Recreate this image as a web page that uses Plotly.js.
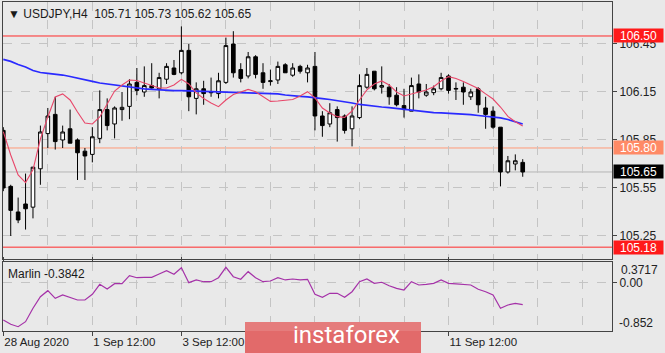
<!DOCTYPE html>
<html><head><meta charset="utf-8">
<script src="https://cdn.plot.ly/plotly-3.0.1.min.js"></script>
<style>html,body{margin:0;padding:0;background:#e9e9e9;}#chart{width:665px;height:353px;}</style>
</head><body><div id="chart"></div>
<script>
// ---- data (H4 bars, index 0..70) ----
const symbol = 'USDJPY,H4';
const openP  = [105.91,105.56,105.40,105.45,105.43,105.67,105.89,106.01,105.85,105.92,105.85,105.78,105.76,105.86,106.04,105.95,106.04,106.06,106.21,106.15,106.19,106.17,106.23,106.30,106.27,106.41,106.11,106.17,106.152,106.14,106.21,106.45,106.29,106.25,106.37,106.27,106.215,106.225,106.32,106.255,106.31,106.27,106.31,106.00,105.95,106.04,106.00,105.92,105.99,106.18,106.28,106.18,106.18,106.13,106.065,106.03,106.20,106.13,106.146,106.17,106.25,106.168,106.18,106.12,106.17,106.05,106.03,105.93,105.65,105.70,105.71];
const highP  = [105.93,105.57,105.49,105.64,105.68,105.94,106.05,106.12,105.94,106.04,105.86,105.80,105.93,106.16,106.11,106.06,106.15,106.23,106.30,106.31,106.33,106.27,106.33,106.35,106.56,106.45,106.21,106.22,106.24,106.27,106.49,106.53,106.33,106.40,106.38,106.33,106.29,106.34,106.33,106.33,106.32,106.32,106.40,106.03,106.08,106.06,106.01,106.06,106.26,106.30,106.28,106.31,106.20,106.18,106.17,106.24,106.26,106.20,106.19,106.27,106.26,106.21,106.21,106.17,106.18,106.12,106.06,105.93,105.75,105.76,105.73];
const lowP   = [105.53,105.25,105.33,105.29,105.36,105.57,105.80,105.79,105.80,105.83,105.60,105.60,105.71,105.83,105.91,105.86,105.97,105.98,106.13,106.12,106.17,106.11,106.20,106.255,106.26,106.03,106.01,106.07,106.12,106.11,106.20,106.24,106.21,106.235,106.235,106.17,106.19,106.20,106.27,106.245,106.265,106.21,105.91,105.87,105.93,105.84,105.89,105.81,105.98,106.17,106.16,106.14,106.07,106.06,105.99,106.03,106.11,106.12,106.13,106.16,106.14,106.10,106.07,106.10,106.02,105.92,105.92,105.56,105.64,105.66,105.62];
const closeP = [105.55,105.41,105.35,105.42,105.68,105.90,106.00,105.84,105.90,105.83,105.77,105.75,105.87,106.04,105.94,106.05,106.054,106.20,106.16,106.19,106.175,106.24,106.31,106.26,106.41,106.12,106.17,106.14,106.146,106.22,106.44,106.27,106.235,106.37,106.26,106.21,106.22,106.31,106.27,106.30,106.28,106.30,106.00,105.94,106.02,105.99,105.91,106.00,106.19,106.26,106.17,106.19,106.12,106.07,106.04,106.19,106.15,106.15,106.17,106.24,106.16,106.172,106.15,106.15,106.07,106.01,105.93,105.65,105.72,105.72,105.65];
const maFast = [105.902,105.756,105.631,105.584,105.663,105.856,105.994,106.119,106.138,106.100,106.025,105.956,105.950,105.994,106.075,106.156,106.194,106.225,106.222,106.206,106.188,106.175,106.175,106.194,106.229,106.200,106.144,106.109,106.081,106.058,106.100,106.134,106.150,106.166,106.152,106.119,106.091,106.094,106.100,106.103,106.125,106.152,106.113,106.050,106.019,105.996,105.991,106.031,106.100,106.163,106.200,106.219,106.194,106.150,106.125,106.138,106.147,106.163,106.183,106.219,106.246,106.234,106.216,106.194,106.172,106.138,106.106,106.056,105.997,105.964,105.938];
const maSlow = [106.354,106.341,106.322,106.306,106.284,106.272,106.266,106.263,106.256,106.247,106.238,106.228,106.216,106.206,106.200,106.194,106.188,106.178,106.172,106.169,106.166,106.163,106.159,106.159,106.158,106.156,106.154,106.152,106.150,106.148,106.146,106.145,106.144,106.144,106.143,106.142,106.141,106.138,106.131,106.125,106.122,106.119,106.116,106.109,106.103,106.097,106.091,106.081,106.072,106.066,106.059,106.056,106.052,106.047,106.041,106.034,106.031,106.025,106.021,106.019,106.017,106.017,106.014,106.009,106.003,105.998,105.994,105.988,105.978,105.966,105.950];
const marlin = [-0.657,-0.733,-0.776,-0.687,-0.449,-0.244,-0.137,-0.272,-0.213,-0.254,-0.302,-0.302,-0.201,-0.024,-0.107,-0.013,-0.013,0.129,0.093,0.100,0.100,0.159,0.217,0.154,0.271,0.005,0.053,0.022,0.022,0.093,0.278,0.111,0.065,0.200,0.093,0.022,0.035,0.093,0.053,0.070,0.053,0.065,-0.201,-0.254,-0.183,-0.183,-0.254,-0.155,0.022,0.070,-0.006,0.012,-0.049,-0.095,-0.125,0.022,-0.036,-0.024,-0.006,0.053,-0.006,-0.018,-0.024,-0.036,-0.112,-0.155,-0.213,-0.449,-0.391,-0.361,-0.384];
const marlinLast = -0.3842;
const marlinMax = 0.3717, marlinMin = -0.852;
const xTickVals = [0,12,24,60];
const xTickText = ['28 Aug 2020','1 Sep 12:00','3 Sep 12:00','11 Sep 12:00'];
const priceTicks = [105.25,105.55,105.85,106.15,106.45];
const levelHigh = 106.50, levelMid = 105.80, levelLow = 105.18;
const bidPrice = 105.65;

const idx = openP.map((_, i) => i);
const FONT = 'Liberation Sans, Arial, sans-serif';

const traces = [
  {type:'candlestick', x:idx, open:openP, high:highP, low:lowP, close:closeP,
   xaxis:'x', yaxis:'y', whiskerwidth:0,
   increasing:{line:{color:'#000', width:1}, fillcolor:'#ffffff'},
   decreasing:{line:{color:'#000', width:1}, fillcolor:'#000000'},
   hoverinfo:'skip', showlegend:false},
  {type:'scatter', mode:'lines', x:idx, y:maSlow, xaxis:'x', yaxis:'y',
   line:{color:'#2a2aff', width:1.7}, hoverinfo:'skip', showlegend:false},
  {type:'scatter', mode:'lines', x:idx, y:maFast, xaxis:'x', yaxis:'y',
   line:{color:'#e8476a', width:1.1}, hoverinfo:'skip', showlegend:false},
  {type:'scatter', mode:'lines', x:idx, y:marlin, xaxis:'x', yaxis:'y2',
   line:{color:'#a532a8', width:1.2}, hoverinfo:'skip', showlegend:false}
];

const W = 665, H = 353, L = 3, R = 53, T = 2, B = 22;
const plotH = H - T - B;
const mainBottomPx = 259, indTopPx = 262;
const pyPaper = px => (H - B - px) / plotH;
const pxPaper = px => (px - L) / (W - L - R);

function lvlLine(v, color){
  return {type:'line', xref:'paper', x0:0, x1:1, yref:'y', y0:v, y1:v, line:{color:color, width:1}, layer:'below'};
}
function lvlLabel(v, bg){
  return {xref:'paper', x:1, xanchor:'left', xshift:1, yref:'y', y:v, yanchor:'middle',
    text:v.toFixed(2), showarrow:false, bgcolor:bg, borderpad:0, width:49, height:13, align:'center',
    font:{family:FONT, size:12, color:'#ffffff'}};
}

const layout = {
  width:W, height:H,
  margin:{l:L, r:R, t:T, b:B, pad:0},
  paper_bgcolor:'#e9e9e9', plot_bgcolor:'#e9e9e9',
  showlegend:false,
  xaxis:{type:'linear', range:[-0.04, 82.03], anchor:'y2',
    rangeslider:{visible:false},
    tickvals:xTickVals, ticktext:xTickText, ticks:'outside', ticklen:4, tickcolor:'#444',
    ticklabelposition:'outside right',
    tickfont:{family:FONT, size:11.5, color:'#222'},
    showgrid:true, gridcolor:'#c4c4c4', griddash:'dash', gridwidth:1,
    minor:{tick0:0, dtick:6, showgrid:true, gridcolor:'#c4c4c4', griddash:'dash', gridwidth:1, ticks:''},
    showline:true, linecolor:'#444', linewidth:1, mirror:'all', zeroline:false, fixedrange:true},
  yaxis:{domain:[pyPaper(mainBottomPx), 1], range:[105.106, 106.7125], side:'right',
    tickvals:priceTicks, ticktext:priceTicks.map(v=>v.toFixed(2)), ticks:'outside', ticklen:4, tickcolor:'#444',
    tickfont:{family:FONT, size:12, color:'#222'},
    showgrid:true, gridcolor:'#c4c4c4', griddash:'dash',
    showline:true, linecolor:'#444', linewidth:1, mirror:true, zeroline:false},
  yaxis2:{domain:[0, pyPaper(indTopPx)], range:[marlinMin, marlinMax], side:'right',
    tickvals:[0], ticktext:['0.00'], ticks:'outside', ticklen:4, tickcolor:'#444',
    tickfont:{family:FONT, size:12, color:'#222'},
    showgrid:true, gridcolor:'#c4c4c4', griddash:'dash',
    showline:true, linecolor:'#444', linewidth:1, mirror:true, zeroline:false},
  shapes:[
    lvlLine(levelHigh, '#ff2a2a'),
    lvlLine(levelMid, '#ff9a78'),
    lvlLine(bidPrice, '#b4b4b4'),
    lvlLine(levelLow, '#ff2a2a'),
    {type:'rect', xref:'paper', yref:'paper', x0:pxPaper(245), x1:pxPaper(421), y0:pyPaper(353), y1:pyPaper(322),
     fillcolor:'#e26a6a', line:{width:0}, layer:'above'},
    {type:'rect', xref:'paper', yref:'paper', x0:pxPaper(245), x1:pxPaper(421), y0:pyPaper(331), y1:pyPaper(322),
     fillcolor:'rgba(255,255,255,0.12)', line:{width:0}, layer:'above'}
  ],
  annotations:[
    {xref:'paper', x:0, xanchor:'left', xshift:3, yref:'paper', y:1, yanchor:'top', yshift:-3,
     text:'\u25BC\u00a0'+symbol+'\u00a0\u00a0'+[openP[70],highP[70],lowP[70],closeP[70]].map(v=>v.toFixed(2)).join('\u00a0'),
     showarrow:false, font:{family:FONT, size:12, color:'#1a1a1a'}},
    lvlLabel(levelHigh, '#ff1a1a'),
    lvlLabel(levelMid, '#ff8a66'),
    lvlLabel(bidPrice, '#000000'),
    lvlLabel(levelLow, '#ff1a1a'),
    {xref:'paper', x:0, xanchor:'left', xshift:3, yref:'paper', y:pyPaper(indTopPx), yanchor:'top', yshift:-3,
     text:'Marlin '+marlinLast.toFixed(4), showarrow:false, font:{family:FONT, size:12, color:'#1a1a1a'}},
    {xref:'paper', x:1, xanchor:'left', xshift:7, yref:'y2', y:marlinMax, yanchor:'top', yshift:1,
     text:marlinMax.toFixed(4), showarrow:false, font:{family:FONT, size:12, color:'#222'}},
    {xref:'paper', x:1, xanchor:'left', xshift:5, yref:'y2', y:marlinMin, yanchor:'bottom', yshift:-1,
     text:marlinMin.toFixed(3), showarrow:false, font:{family:FONT, size:12, color:'#222'}},
    {xref:'paper', x:pxPaper(346), xanchor:'center', yref:'paper', y:pyPaper(335), yanchor:'middle',
     text:'instaforex', showarrow:false, font:{family:'Roboto, sans-serif', size:24, color:'#ffffff'}}
  ]
};

Plotly.newPlot('chart', traces, layout, {staticPlot:true, displayModeBar:false});
</script>
</body></html>
